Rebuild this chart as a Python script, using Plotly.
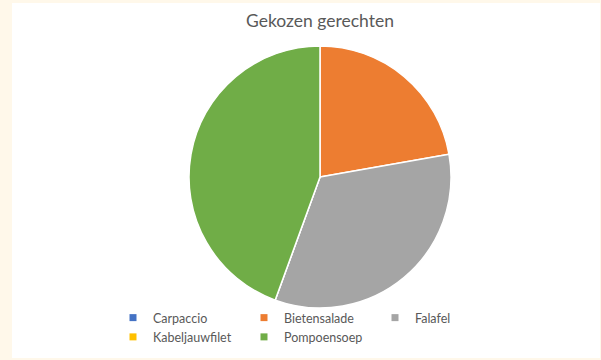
import plotly.graph_objects as go

# Chosen dishes (number of guests per dish)
dishes = ["Carpaccio", "Bietensalade", "Falafel", "Kabeljauwfilet", "Pompoensoep"]
counts = [0, 2, 3, 0, 4]
colors = ["#4472C4", "#ED7D31", "#A5A5A5", "#FFC000", "#70AD47"]

title_text = "Gekozen gerechten"
W, H = 601, 360
L, PW = 100, 450          # plot-area left edge and width (sets legend wrapping to 3 columns)
font_family = "Lato, 'Open Sans', sans-serif"
text_color = "#595959"


def px_x(p):
    """Pixel x in the figure -> paper fraction of the plot area."""
    return (p - L) / PW


fig = go.Figure()

fig.add_trace(go.Pie(
    labels=dishes,
    values=counts,
    marker=dict(colors=colors, line=dict(color="white", width=1.5)),
    sort=False,
    direction="clockwise",
    rotation=0,
    textinfo="none",
    hoverinfo="label+value+percent",
    showlegend=False,
    domain=dict(x=[px_x(189), px_x(451)], y=[52 / H, 314 / H]),
))

# Small square legend keys
for name, col in zip(dishes, colors):
    fig.add_trace(go.Scatter(
        x=[None], y=[None], mode="markers", name=name,
        marker=dict(symbol="square", size=7, color=col),
        hoverinfo="skip",
    ))

fig.update_layout(
    width=W, height=H,
    margin=dict(l=L, r=W - L - PW, t=0, b=0, autoexpand=False),
    paper_bgcolor="#FFF8EA",
    plot_bgcolor="rgba(0,0,0,0)",
    xaxis=dict(visible=False),
    yaxis=dict(visible=False),
    font=dict(family=font_family, color=text_color, size=12.5),
    title=dict(text=title_text, xref="container", x=320 / W, xanchor="center",
               yref="container", y=1 - 21 / H, yanchor="middle",
               font=dict(size=17.5, color=text_color, family=font_family)),
    legend=dict(
        orientation="h",
        x=px_x(113), xanchor="left",
        y=1 - 303 / H, yanchor="top",
        entrywidth=86, entrywidthmode="pixels",
        bgcolor="rgba(0,0,0,0)",
        font=dict(size=12.5, color=text_color, family=font_family),
        traceorder="normal",
    ),
    shapes=[dict(type="rect", xref="paper", yref="paper", layer="below",
                 x0=px_x(12), x1=px_x(600), y0=1 - 358 / H, y1=1 - 3 / H,
                 fillcolor="white", line=dict(width=0))],
)

fig.write_html("out.html")
